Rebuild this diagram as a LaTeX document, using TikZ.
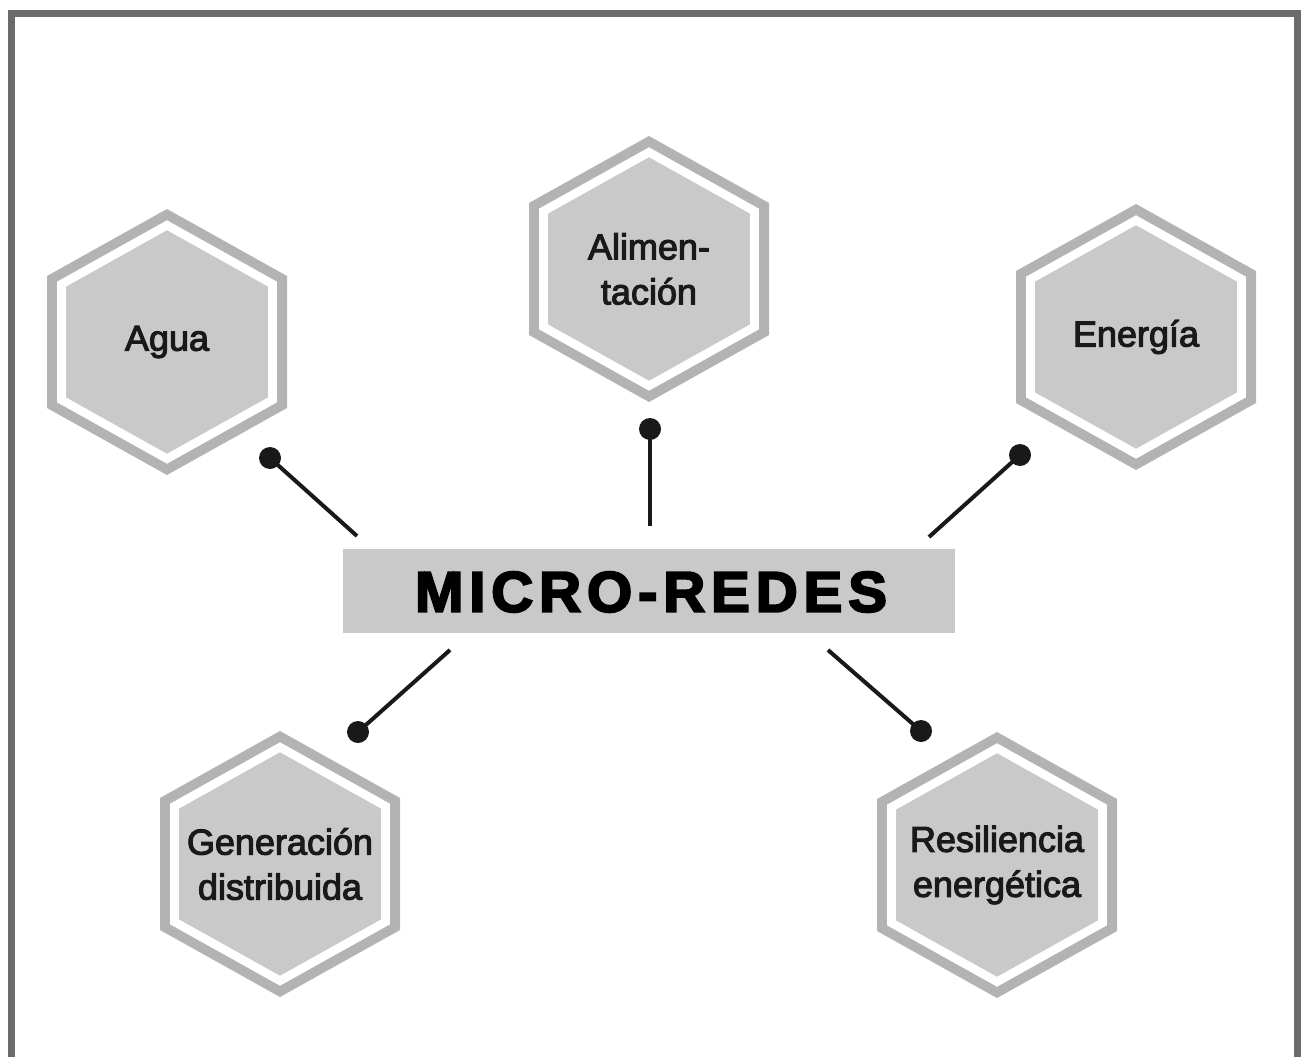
\documentclass[tikz,border=0pt]{standalone}
\usepackage{fontspec}
\setmainfont{Liberation Sans}
\newfontfamily\hexfont[FakeBold=3]{Liberation Sans}
\newfontfamily\micfont[FakeBold=3.5]{Liberation Sans Bold}
\definecolor{framegray}{HTML}{6B6B6B}
\definecolor{bandgray}{HTML}{B3B3B3}
\definecolor{fillgray}{HTML}{C9C9C9}
\tikzset{
  hextext/.style={align=center, text=black!90, inner sep=0pt,
    font=\hexfont\fontsize{36}{45}\selectfont},
  dotnode/.style={circle, fill=black!90, minimum size=22pt, inner sep=0pt},
  conn/.style={line width=4pt, draw=black!90},
  titlebox/.style={fill=fillgray, minimum width=612pt, minimum height=84pt, inner sep=0pt}
}
\newcommand{\hexshape}[1]{\fill[#1] (0,-133) -- (120,-66) -- (120,66) -- (0,133) -- (-120,66) -- (-120,-66) -- cycle;}
\newcommand{\hexcell}[4]{%
  \begin{scope}[shift={(#1,#2)}]
    \hexshape{bandgray}
    \hexshape{white, scale=0.915}
    \hexshape{fillgray, scale=0.84}
  \end{scope}
  \node[hextext] (#3) at (#1,#2) {#4};
}
\newcommand{\spacedtitle}{M\kern.1em I\kern.1em C\kern.1em R\kern.1em O\kern.1em -\kern.1em R\kern.1em E\kern.1em D\kern.1em E\kern.1em S}
\begin{document}
\begin{tikzpicture}[x=1pt,y=-1pt]
\useasboundingbox (0,0) rectangle (1301,1057);
\clip (0,0) rectangle (1301,1057);
\fill[white] (0,0) rectangle (1301,1057);
% frame
\draw[framegray, line width=7pt] (11.5,13.5) rectangle (1297.5,1080);

% hexagons
\hexcell{167}{342}{agua}{Agua}
\hexcell{649}{269}{alim}{Alimen-\\taci\'on}
\hexcell{1136}{337}{ener}{Energ\'ia}
\hexcell{280}{864}{gene}{Generaci\'on\\distribuida}
\hexcell{997}{865}{resi}{Resiliencia\\energ\'etica}

% central title
\node[titlebox] (micro) at (649,591) {};
\node (title) at (651,592) {\resizebox{472pt}{40pt}{\micfont\spacedtitle}};

% connectors
\node[dotnode] (dA) at (270,458) {};
\coordinate (lA) at (357,536);
\draw[conn] (dA.center) -- (lA);

\node[dotnode] (dB) at (650,429) {};
\coordinate (lB) at (650,526);
\draw[conn] (dB.center) -- (lB);

\node[dotnode] (dC) at (1020,455) {};
\coordinate (lC) at (929,537);
\draw[conn] (dC.center) -- (lC);

\node[dotnode] (dD) at (358,732) {};
\coordinate (lD) at (450,650);
\draw[conn] (dD.center) -- (lD);

\node[dotnode] (dE) at (921,731) {};
\coordinate (lE) at (828,650);
\draw[conn] (dE.center) -- (lE);
\end{tikzpicture}
\end{document}
